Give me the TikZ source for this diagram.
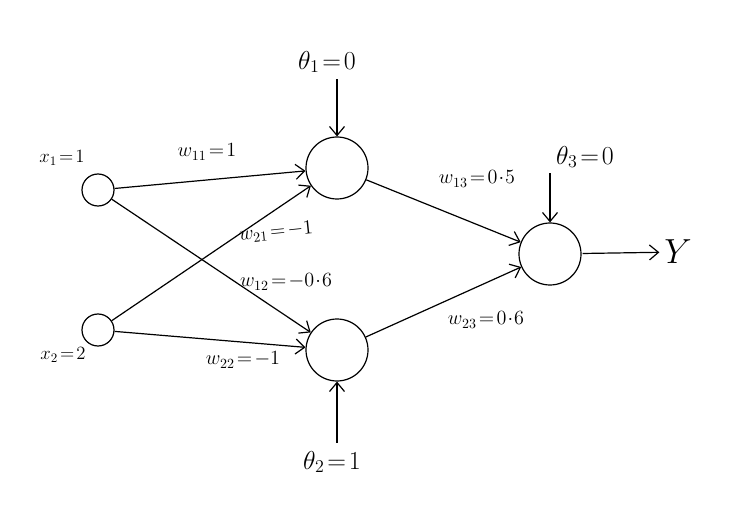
\documentclass[tikz,border=0pt]{standalone}
\usepackage{amsmath}
\usepackage{tikz}
\usetikzlibrary{arrows.meta,positioning}
\tikzset{
  neuron/.style={circle, draw, line width=1.2pt, inner sep=0pt},
  inneuron/.style={neuron, minimum size=32pt},
  hidneuron/.style={neuron, minimum size=62pt},
  synln/.style={-{Straight Barb[length=9pt,width=15pt]}, line width=1.2pt},
  xlab/.style={font=\Large, scale=1.3},
  wlab/.style={font=\Large, scale=1.4},
  blab/.style={font=\huge, scale=1.25},
}
\begin{document}
\begin{tikzpicture}[x=1pt, y=-1pt]
    \useasboundingbox (0,0) rectangle (732,508);
    % neurons
    \node[inneuron] (x1) at (98,190) {};
    \node[inneuron] (x2) at (98,330) {};
    \node[hidneuron] (h1) at (337,168) {};
    \node[hidneuron] (h2) at (337,350) {};
    \node[hidneuron] (o) at (550,254) {};
    % inputs, biases, output
    \node[xlab] (lx1) at (62,158) {$x_1\!=\!1$};
    \node[xlab] (lx2) at (63,355) {$x_2\!=\!2$};
    \node[blab] (t1) at (327,62) {$\theta_1\!=\!0$};
    \node[blab] (t2) at (332,462) {$\theta_2\!=\!1$};
    \node[blab] (t3) at (585,157) {$\theta_3\!=\!0$};
    \node[font=\Huge, scale=1.4] (y) at (678,252) {$Y$};
    % connections
    \draw[synln] (x1) -- (h1);
    \draw[synln] (x1) -- (h2);
    \draw[synln] (x2) -- (h1);
    \draw[synln] (x2) -- (h2);
    \draw[synln] (h1) -- (o);
    \draw[synln] (h2) -- (o);
    \draw[synln, shorten <=2pt] (t1.south -| h1) -- (h1);
    \draw[synln, shorten <=4pt] (t2.north -| h2) -- (h2);
    \draw[synln, shorten <=1pt] (t3.south -| o) -- (o);
    \draw[synln, shorten <=1pt] (o) -- (y);
    % weights
    \node[wlab] at (207,152) {$w_{11}\!=\!1$};
    \node[wlab, rotate=6, inner sep=1pt] at (276,232) {$w_{21}\!=\!-1$};
    \node[wlab] at (286,282) {$w_{12}\!=\!-0\!\cdot\!6$};
    \node[wlab] at (243,360) {$w_{22}\!=\!-1$};
    \node[wlab] at (477,179) {$w_{13}\!=\!0\!\cdot\!5$};
    \node[wlab] at (486,320) {$w_{23}\!=\!0\!\cdot\!6$};
\end{tikzpicture}
\end{document}
